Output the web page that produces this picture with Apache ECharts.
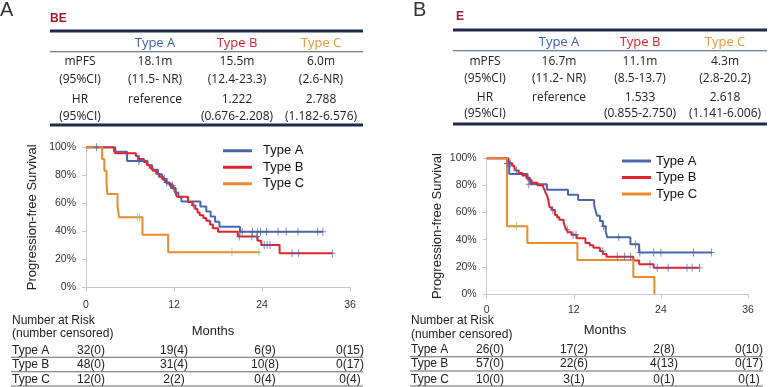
<!DOCTYPE html>
<html><head><meta charset="utf-8">
<script src="https://cdn.jsdelivr.net/npm/echarts@6/dist/echarts.min.js"></script>
<style>html,body{margin:0;padding:0;background:#fff}#c{width:781px;height:387px}</style>
</head><body><div id="c"></div>
<script>
// ---------- DATA ----------
const legendNames = ['Type A', 'Type B', 'Type C'];
// Panel A (BE) Kaplan-Meier steps: [month, PFS %]
const beA = [[0,100],[4.0,96.8],[5.6,90.3],[8.4,87.1],[9.0,83.9],[9.8,80.6],[10.4,77.4],[11.0,74.2],[11.6,71.0],[12.2,67.8],[12.6,64.5],[13.0,61.3],[15.6,57.7],[16.4,54.1],[17.0,50.5],[17.6,46.9],[18.2,43.3],[21.0,39.6],[32.3,39.6]];
const beB = [[0,100],[3.8,97.9],[4.0,95.8],[6.8,93.7],[7.1,91.6],[7.9,89.5],[8.3,87.4],[8.7,85.3],[9.1,83.2],[9.6,81.1],[10.0,79.0],[10.5,76.9],[10.9,74.8],[11.4,72.7],[11.9,70.6],[12.2,67.5],[12.4,64.7],[13.9,61.0],[14.5,58.5],[14.9,56.0],[15.2,53.5],[15.5,51.5],[16.0,49.5],[16.4,47.5],[16.9,44.8],[17.3,42.2],[18.0,39.7],[20.7,36.3],[23.4,33.2],[23.9,30.2],[26.4,24.3],[33.6,24.3]];
const beC = [[0,100],[2.2,91.7],[2.5,83.3],[2.8,75.0],[2.9,66.7],[4.3,58.3],[4.5,50.0],[7.7,37.5],[11.2,25.0],[23.6,25.0]];
const beAcens = [[1.45,100],[7.2,90.3],[10.7,77.4],[11.9,71.0],[21.0,39.6],[21.3,39.6],[22.7,39.6],[23.4,39.6],[23.8,39.6],[24.6,39.6],[26.2,39.6],[27.3,39.6],[28.9,39.6],[31.6,39.6],[32.3,39.6]];
const beBcens = [[7.3,91.6],[9.9,81.1],[11.0,74.8],[11.8,72.7],[14.7,58.5],[20.9,36.3],[22.6,36.3],[23.3,36.3],[24.3,30.2],[24.7,30.2],[25.1,30.2],[28.1,24.3],[29.0,24.3],[33.6,24.3]];
const beCcens = [[7.0,50],[7.3,50],[19.9,25],[23.6,25]];
// Panel B (E)
const eA = [[0,100],[2.8,96.2],[3.1,88.5],[5.6,84.6],[6.0,80.8],[8.3,76.9],[11.2,73.1],[12.6,69.2],[14.8,65.4],[15.0,61.5],[15.2,57.7],[15.6,53.8],[16.0,50.0],[16.4,46.2],[16.6,41.8],[19.8,36.6],[21.0,30.5],[31.0,30.5]];
const eB = [[0,100],[3.0,98.2],[3.2,96.4],[3.5,94.6],[3.8,92.8],[4.0,91.0],[4.4,89.2],[4.9,87.4],[5.5,85.6],[5.9,83.8],[6.2,81.9],[7.0,80.1],[7.8,78.3],[8.0,76.5],[8.1,74.6],[8.3,72.8],[8.4,71.0],[8.5,69.2],[8.6,65.6],[8.7,63.7],[9.0,61.9],[9.4,58.3],[9.7,56.5],[10.0,54.7],[10.6,52.8],[10.8,49.2],[11.0,47.4],[11.2,45.5],[11.7,43.7],[12.4,41.0],[13.6,37.5],[14.2,36.0],[14.7,34.0],[15.6,31.5],[16.0,29.5],[16.5,27.5],[20.2,24.6],[21.0,22.0],[23.0,19.4],[29.3,19.4]];
const eC = [[0,100],[2.8,50],[5.6,37.5],[12.5,25],[20.2,12.5],[23.1,0]];
const eAcens = [[2.8,96.2],[5.8,80.8],[16.1,50.0],[18.2,41.8],[20.5,36.6],[21.1,30.5],[23.0,30.5],[24.0,30.5],[28.5,30.5],[31.0,30.5]];
const eBcens = [[3.3,96.4],[4.1,91.0],[5.7,85.6],[9.1,61.9],[11.1,47.4],[11.9,43.7],[12.3,43.7],[16.0,31.5],[18.0,27.5],[19.0,27.5],[19.8,27.5],[22.5,22.0],[23.5,19.4],[25.0,19.4],[27.6,19.4],[28.3,19.4],[29.3,19.4]];
const eCcens = [[4.1,50]];
// Tables
const rowLabels = ['mPFS', '(95%CI)', 'HR', '(95%CI)'];
const tblBE = [['18.1m','(11.5- NR)','reference',''],['15.5m','(12.4-23.3)','1.222','(0.676-2.208)'],['6.0m','(2.6-NR)','2.788','(1.182-6.576)']];
const tblE  = [['16.7m','(11.2- NR)','reference',''],['11.1m','(8.5-13.7)','1.533','(0.855-2.750)'],['4.3m','(2.8-20.2)','2.618','(1.141-6.006)']];
// Number at risk (censored) at 0,12,24,36 months
const riskBE = [['32(0)','19(4)','6(9)','0(15)'],['48(0)','31(4)','10(8)','0(17)'],['12(0)','2(2)','0(4)','0(4)']];
const riskE  = [['26(0)','17(2)','2(8)','0(10)'],['57(0)','22(6)','4(13)','0(17)'],['10(0)','3(1)','0(1)','0(1)']];

// ---------- STYLE ----------
const COLORS = ['#4a67ad', '#e2232c', '#e98b2e'];
const HEAD_COLORS = ['#3f5ea8', '#d9222e', '#eb9638'];
const CENS_COLORS = ['#4b5b9c', '#5a5a9e', '#9bbb59'];
const ARIAL = '"Liberation Sans", Arial, sans-serif';
const OPEN = '"Open Sans", sans-serif';
const plus = 'path://M3,0h1v3.5h3v1h-3v3.5h-1v-3.5h-3v-1h3z';

const chart = echarts.init(document.getElementById('c'), null, {renderer: 'canvas'});

function km(name, data, color, i) {
  return {name, type:'line', step:'end', data, xAxisIndex:i, yAxisIndex:i, symbol:'none', showSymbol:false,
    lineStyle:{color, width:2}, itemStyle:{color}, z:2, silent:true};
}
function cens(name, data, color, i) {
  return {name, type:'scatter', data, xAxisIndex:i, yAxisIndex:i, symbol:plus, symbolSize:[6,8],
    itemStyle:{color}, z:3, silent:true};
}
function xAx(i, margin) {
  return {gridIndex:i, type:'value', min:0, max:36, interval:12,
    axisLine:{show:true, lineStyle:{color:'#c8c8c8', width:1}},
    axisTick:{show:true, length:4, lineStyle:{color:'#c8c8c8'}},
    axisLabel:{fontSize:10.5, color:'#333', margin, fontFamily:ARIAL}, splitLine:{show:false}};
}
function yAx(i, gap) {
  return {gridIndex:i, type:'value', min:0, max:100, interval:20,
    name:'Progression-free Survival', nameLocation:'middle', nameGap:gap,
    nameTextStyle:{fontSize:13, color:'#222', fontFamily:ARIAL},
    axisLine:{show:true, lineStyle:{color:'#c8c8c8', width:1}},
    axisTick:{show:true, length:4, lineStyle:{color:'#c8c8c8'}},
    axisLabel:{fontSize:10.5, color:'#333', margin:10, formatter:'{value}%', fontFamily:ARIAL}, splitLine:{show:false}};
}

// ---------- GRAPHIC (tables / labels) ----------
const G = [];
function T(x, y, text, o) {
  G.push({type:'text', x, y, silent:true, style:Object.assign({text, fill:'#222', font:'12px ' + OPEN, align:'center', verticalAlign:'middle'}, o || {})});
}
function R(x, y, w, h, fill) {
  G.push({type:'rect', silent:true, shape:{x, y, width:w, height:h}, style:{fill}});
}
function statTable(cfg, tbl) {
  R(cfg.x0, cfg.top - 1.5, cfg.x1 - cfg.x0, 3, '#1e2a4a');
  R(cfg.x0, cfg.thin - 0.5, cfg.x1 - cfg.x0, 1, '#46557a');
  R(cfg.x0, cfg.bot - 1.5, cfg.x1 - cfg.x0, 3, '#1e2a4a');
  legendNames.forEach((n, k) => T(cfg.cols[k], cfg.headY, n, {fill:HEAD_COLORS[k], font:'13px ' + OPEN}));
  rowLabels.forEach((l, r) => T(cfg.labX, cfg.rows[r], l));
  tbl.forEach((col, k) => col.forEach((v, r) => { if (v) T(cfg.cols[k], cfg.rows[r], v); }));
}
function riskTable(cfg, risk) {
  T(cfg.x0 + 1, cfg.nY1, 'Number at Risk', {align:'left', font:'12px ' + ARIAL});
  T(cfg.x0 + 1, cfg.nY2, '(number censored)', {align:'left', font:'12px ' + ARIAL});
  T(cfg.monthsX, cfg.monthsY, 'Months', {font:'13px ' + ARIAL});
  legendNames.forEach((n, r) => {
    T(cfg.x0 + 1, cfg.rows[r], n, {align:'left', font:'12px ' + ARIAL});
    risk[r].forEach((v, k) => T(cfg.cols[k], cfg.rows[r], v, {font:'12px ' + ARIAL}));
    R(cfg.x0, cfg.lines[r] - 0.5, cfg.x1 - cfg.x0, 1, '#666');
  });
}
// Panel letters & subtitles
T(0, 10, 'A', {align:'left', font:'20px ' + ARIAL, fill:'#333'});
T(413, 10, 'B', {align:'left', font:'20px ' + ARIAL, fill:'#333'});
T(50, 19, 'BE', {align:'left', font:'bold 12px ' + ARIAL, fill:'#a0182b'});
T(456, 17, 'E', {align:'left', font:'bold 12px ' + ARIAL, fill:'#a0182b'});
statTable({x0:50, x1:363, top:31, thin:51.7, bot:125, headY:43, cols:[155,237,321], labX:80, rows:[62,80,100,117]}, tblBE);
statTable({x0:453, x1:767, top:30, thin:50.7, bot:124, headY:42, cols:[559,640,725], labX:485, rows:[62,78.3,97.7,114]}, tblE);
riskTable({x0:11, x1:363, nY1:320.7, nY2:334, monthsX:213, monthsY:331, rows:[350.5,364.3,379.3], lines:[357.3,371.7,386], cols:[91,174,265,350]}, riskBE);
riskTable({x0:410, x1:763, nY1:320.7, nY2:335, monthsX:605, monthsY:330.7, rows:[350,364,379.5], lines:[356.7,371,386], cols:[490,574,664,749]}, riskE);

function legend(left, top, pad) {
  return {left, top, orient:'vertical', data:legendNames, icon:'rect', itemWidth:29, itemHeight:3, itemGap:0,
    selectedMode:false, textStyle:{fontSize:13, lineHeight:16.5, color:'#111', fontFamily:ARIAL, padding:[0,0,0,pad]}};
}

chart.setOption({
  animation:false,
  backgroundColor:'#fff',
  grid:[{left:86, top:147.3, width:264, height:140}, {left:486.7, top:158.3, width:261.3, height:135.7}],
  xAxis:[xAx(0, 12), xAx(1, 11)],
  yAxis:[yAx(0, 47), yAx(1, 43)],
  legend:[legend(218, 137.5, 6), legend(617, 147.75, 0)],
  series:[
    km('Type A', beA, COLORS[0], 0), km('Type B', beB, COLORS[1], 0), km('Type C', beC, COLORS[2], 0),
    cens('cA0', beAcens, CENS_COLORS[0], 0), cens('cB0', beBcens, CENS_COLORS[1], 0), cens('cC0', beCcens, CENS_COLORS[2], 0),
    km('Type A', eA, COLORS[0], 1), km('Type B', eB, COLORS[1], 1), km('Type C', eC, COLORS[2], 1),
    cens('cA1', eAcens, CENS_COLORS[0], 1), cens('cB1', eBcens, CENS_COLORS[1], 1), cens('cC1', eCcens, CENS_COLORS[2], 1)
  ],
  graphic:G
});
</script></body></html>
